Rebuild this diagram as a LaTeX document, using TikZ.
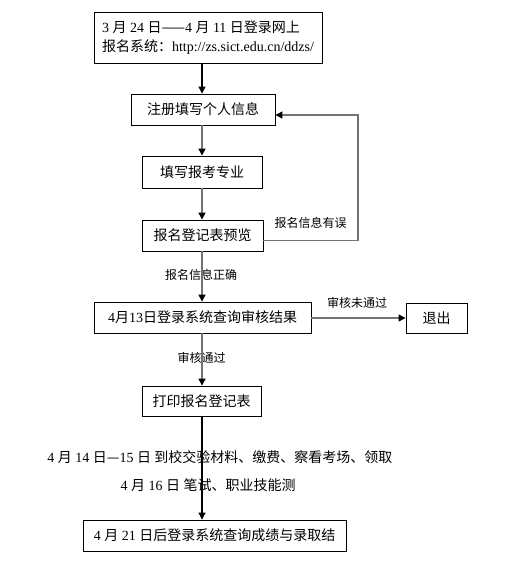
\documentclass[tikz,border=0pt]{standalone}
\usepackage{fontspec}
\setmainfont{Liberation Serif}
\newfontfamily\cjk{Noto Sans CJK SC}
\newcommand\zh[1]{{\cjk #1}}
\usetikzlibrary{arrows.meta}
\begin{document}
\begin{tikzpicture}[x=1pt,y=-1pt,
  box/.style={draw=black,line width=0.9pt,inner sep=0pt,font=\fontsize{14}{19}\selectfont},
  lbl/.style={inner sep=0pt,font=\fontsize{12}{14}\selectfont},
  txt/.style={inner sep=0pt,font=\fontsize{14}{17}\selectfont},
  conn/.style={draw=black!55,line width=1.3pt,-{Triangle[width=7pt,length=7pt,color=black]}},
  connb/.style={draw=black,line width=1.1pt,-{Triangle[width=7pt,length=7pt,color=black]}}]
\fill[white] (0,0) rectangle (510,570);
\useasboundingbox (0,0) rectangle (510,570);
\coordinate (cx) at (202,0);
\node[box,minimum width=228pt,minimum height=51pt,align=left] (b1) at (208,37.5)
  {3 \zh{月} 24 \zh{日——}4 \zh{月} 11 \zh{日登录网上}\\\zh{报名系统：}http://zs.sict.edu.cn/ddzs/};
\node[box,minimum width=144pt,minimum height=31pt] (b2) at (203,109.5) {\zh{注册填写个人信息}};
\node[box,minimum width=120pt,minimum height=32pt] (b3) at (202,172) {\zh{填写报考专业}};
\node[box,minimum width=121pt,minimum height=31pt] (b4) at (202.5,235.5) {\zh{报名登记表预览}};
\node[box,minimum width=217pt,minimum height=31pt] (b5) at (202.5,317.5) {4\zh{月}13\zh{日登录系统查询审核结果}};
\node[box,minimum width=61pt,minimum height=30pt] (b6) at (436.5,318) {\zh{退出}};
\node[box,minimum width=119pt,minimum height=30pt] (b7) at (201.5,401) {\zh{打印报名登记表}};
\node[box,minimum width=263pt,minimum height=31pt] (b8) at (214.5,535.5) {4 \zh{月} 21 \zh{日后登录系统查询成绩与录取结}};
\node[txt] (t1) at (220,457) {4 \zh{月} 14 \zh{日—}15 \zh{日} \zh{到校交验材料、缴费、察看考场、领取}};
\node[txt] (t2) at (208,485) {4 \zh{月} 16 \zh{日} \zh{笔试、职业技能测}};
\node[lbl] (l1) at (310.5,223) {\zh{报名信息有误}};
\node[lbl] (l2) at (201,275) {\zh{报名信息正确}};
\node[lbl] (l3) at (357,303) {\zh{审核未通过}};
\node[lbl] (l4) at (201.5,358) {\zh{审核通过}};
\coordinate (fr) at (358,0);
\draw[connb] (b1.south -| cx) -- (b2.north -| cx);
\draw[conn] (b2.south -| cx) -- (b3.north -| cx);
\draw[conn] (b3.south -| cx) -- (b4.north -| cx);
\draw[conn] (b4.south -| cx) -- (b5.north -| cx);
\draw[conn] (b5.south -| cx) -- (b7.north -| cx);
\draw[connb] (b7.south -| cx) -- (b8.north -| cx);
\draw[conn] (b5.east |- b6.west) -- (b6.west);
\draw[conn] ([yshift=-5pt]b4.east) -| ([yshift=-5.5pt]fr |- b2.east) -- ([yshift=-5.5pt]b2.east);
\end{tikzpicture}
\end{document}
